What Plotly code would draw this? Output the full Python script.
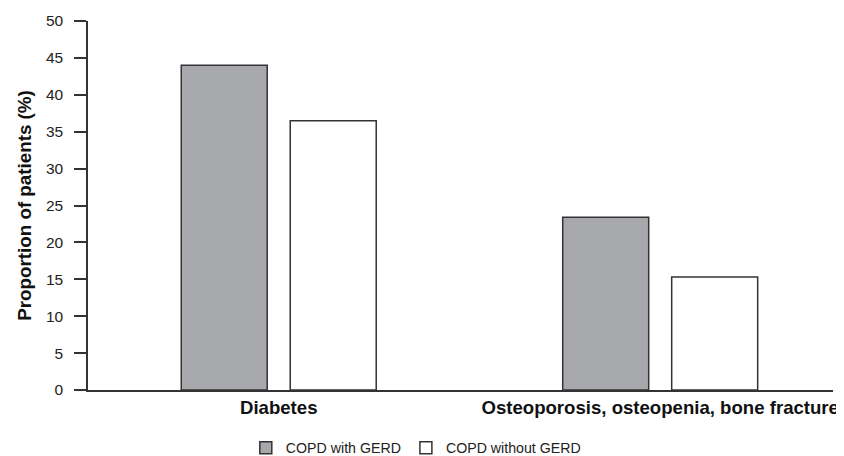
import plotly.graph_objects as go

categories = ["Diabetes", "Osteoporosis, osteopenia, bone fracture"]
with_gerd = [44.0, 23.4]
without_gerd = [36.5, 15.3]
series_names = ["COPD with GERD", "COPD without GERD"]
y_ticks = [0, 5, 10, 15, 20, 25, 30, 35, 40, 45, 50]

FONT = "Liberation Sans, Arial, sans-serif"
edge = "#333333"

fig = go.Figure()
fig.add_trace(go.Bar(x=categories, y=with_gerd, name=series_names[0],
                     marker=dict(color="#a7a8ab", line=dict(color=edge, width=1.5))))
fig.add_trace(go.Bar(x=categories, y=without_gerd, name=series_names[1],
                     marker=dict(color="#ffffff", line=dict(color=edge, width=1.5))))

# page body has an 8px margin, so the figure is sized/offset to compensate
fig.update_layout(
    width=836, height=448,
    margin=dict(l=80, r=11, t=13, b=66, autoexpand=False),
    paper_bgcolor="white", plot_bgcolor="white",
    barmode="group", bargap=0.4286, bargroupgap=0.211,
    font=dict(family=FONT, color="#222222", size=15),
    showlegend=True,
    legend=dict(orientation="h", x=0.44, xanchor="center", y=-0.157, yanchor="middle",
                font=dict(size=14.2, color="#222222"), itemwidth=30, traceorder="normal"),
    xaxis=dict(type="category", range=[-0.5, 1.453], showline=True, linecolor=edge, linewidth=1.5,
               ticks="", tickfont=dict(size=18.6, family=FONT, color="#111111"),
               showgrid=False, zeroline=False, automargin=False,
               tickvals=categories, ticktext=["<b>" + c + "</b>" for c in categories]),
    yaxis=dict(range=[0, 50], tickvals=y_ticks, showline=True, linecolor=edge, linewidth=1.5,
               ticks="outside", ticklen=12, tickcolor=edge, tickwidth=1.5,
               ticklabelstandoff=8,
               showgrid=False, zeroline=False, automargin=False,
               tickfont=dict(size=15.5, color="#222222"),
               title=dict(text="<b>Proportion of patients (%)</b>", font=dict(size=18.8, color="#111111"), standoff=9)),
)

fig.write_html("out.html")
